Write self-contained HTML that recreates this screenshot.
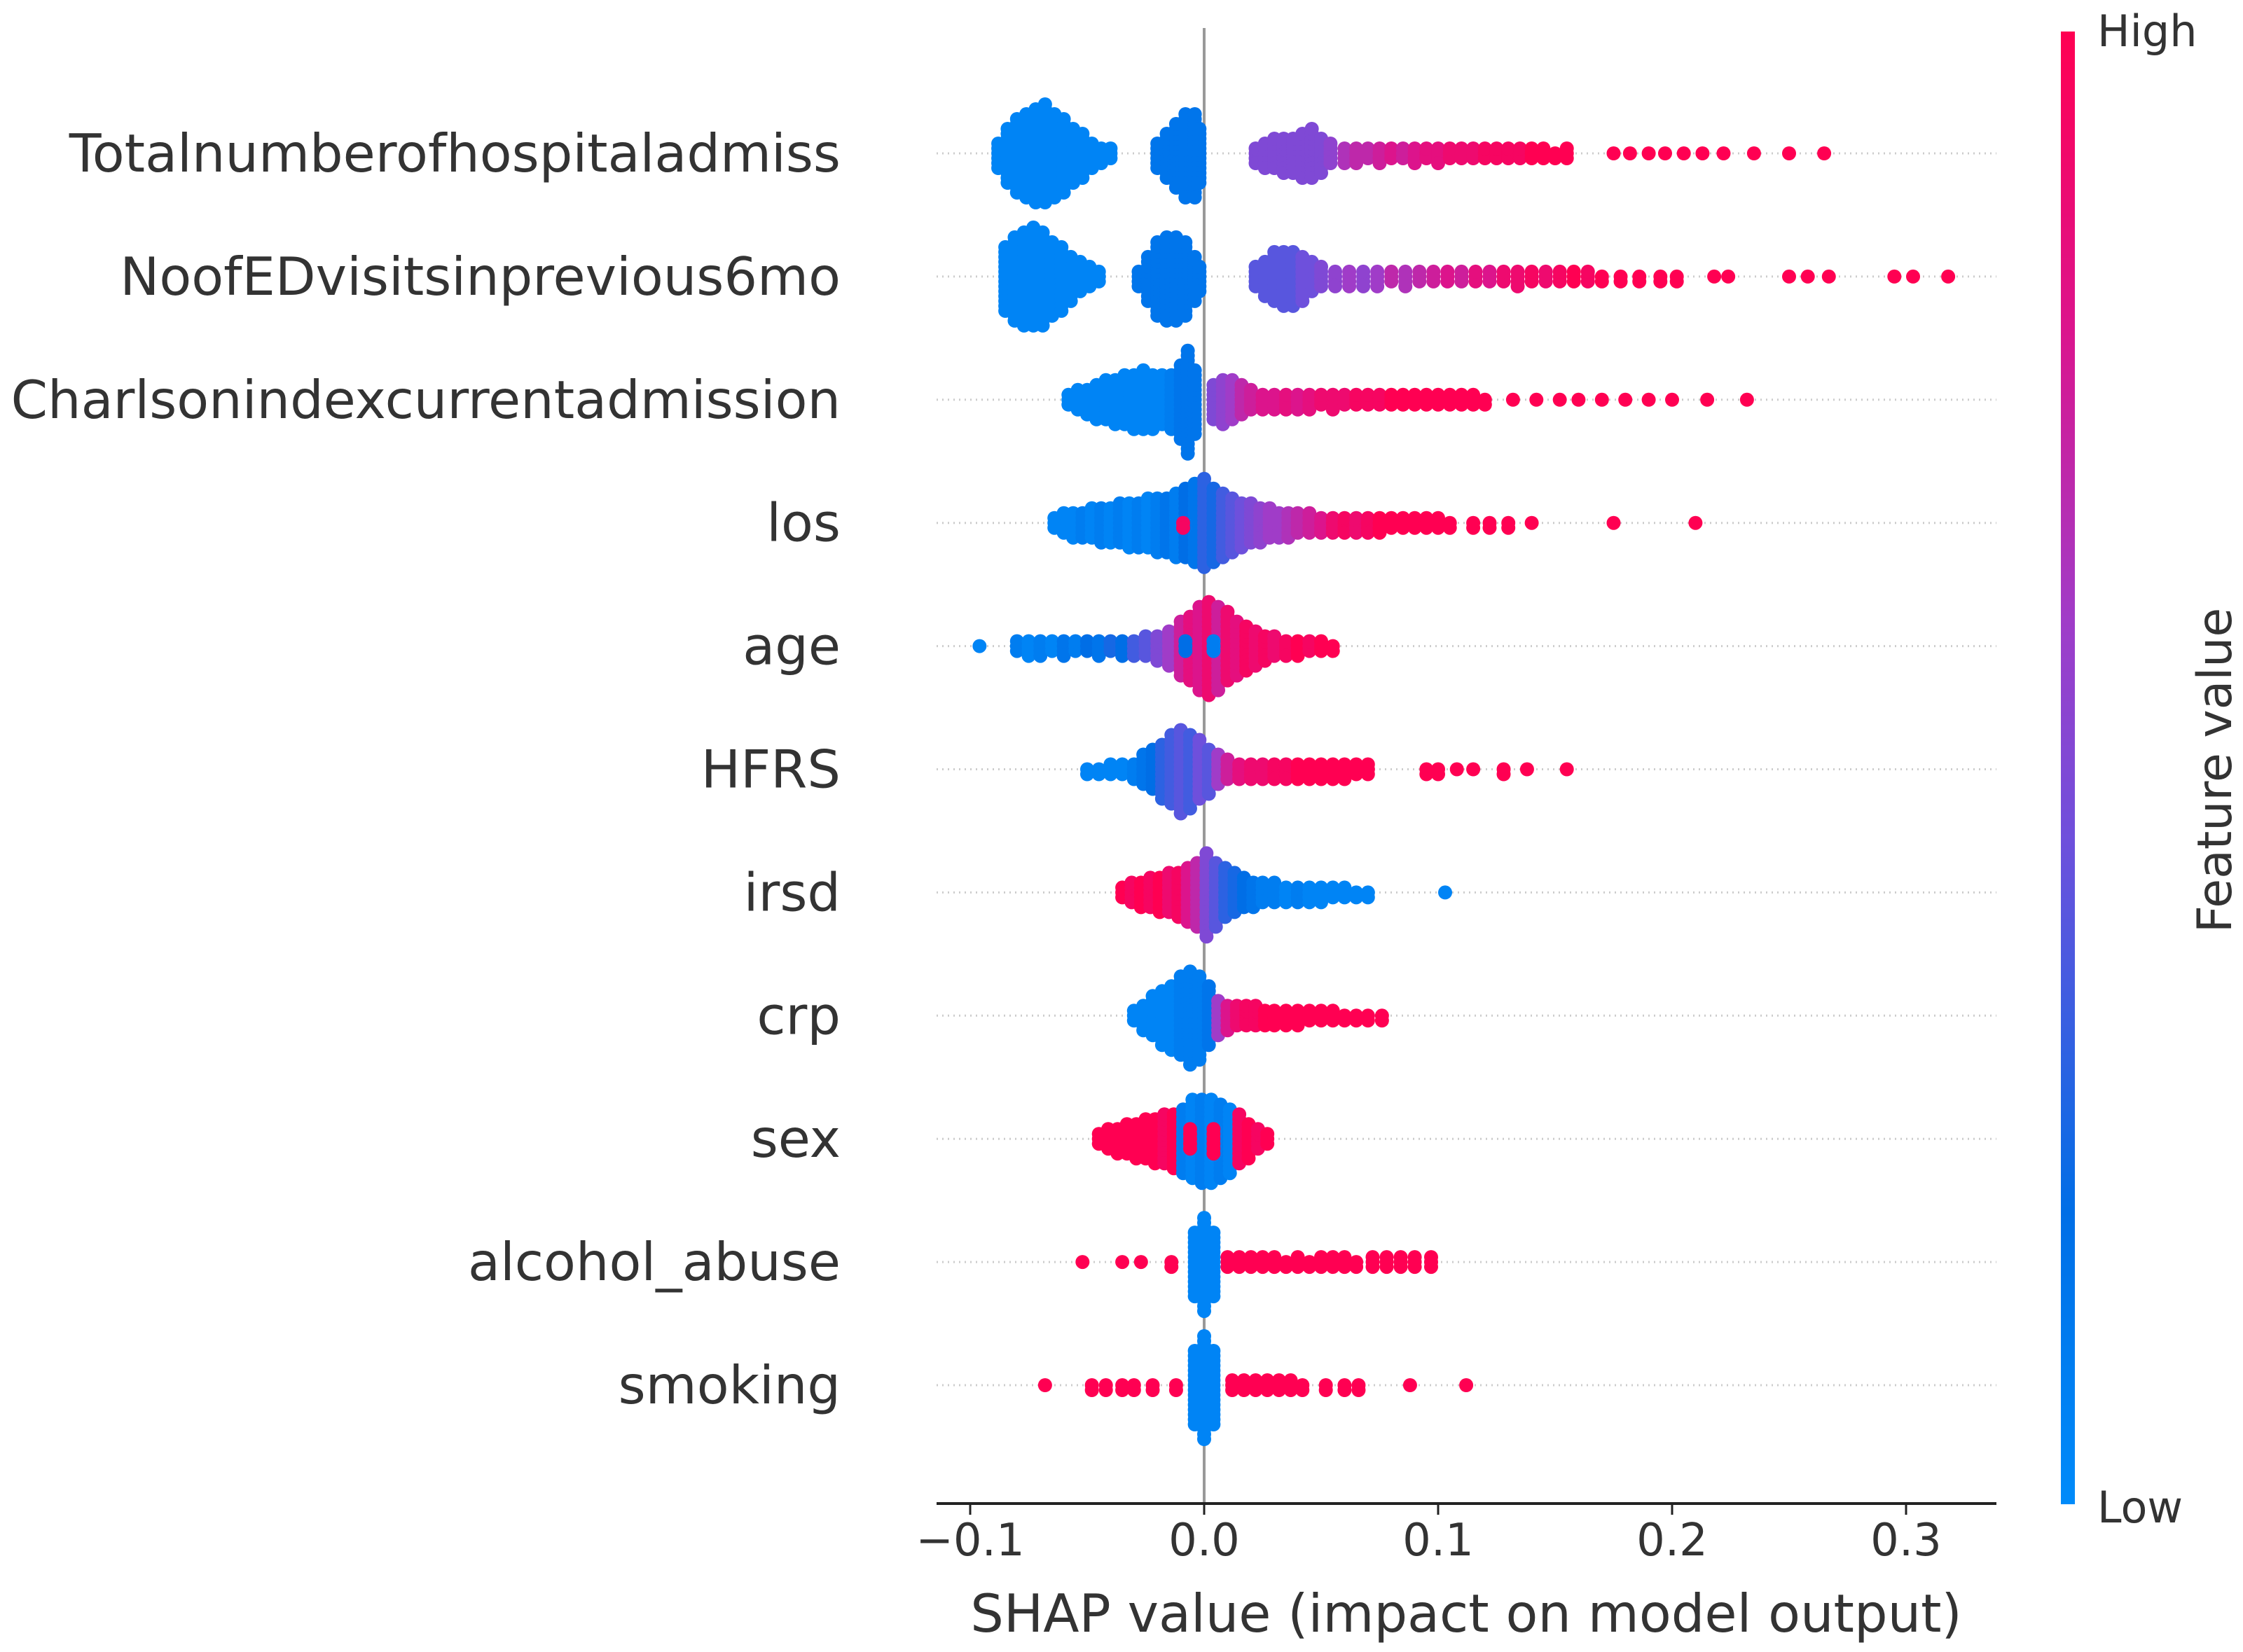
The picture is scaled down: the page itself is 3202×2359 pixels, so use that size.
<!DOCTYPE html>
<html><head><meta charset="utf-8"><style>
html,body{margin:0;padding:0;background:#fff;}
svg{display:block;font-family:"DejaVu Sans","Liberation Sans",sans-serif;}
</style></head><body>
<svg id="chart" width="3202" height="2359" viewBox="0 0 3202 2359" xmlns="http://www.w3.org/2000/svg">
<defs><linearGradient id="cbar" x1="0" y1="1" x2="0" y2="0">
<stop offset="0" stop-color="rgb(0,139,250)"/><stop offset="0.2" stop-color="rgb(0,110,230)"/><stop offset="0.45" stop-color="rgb(110,80,220)"/><stop offset="0.6" stop-color="rgb(160,60,200)"/><stop offset="0.8" stop-color="rgb(220,20,140)"/><stop offset="1" stop-color="rgb(255,0,82)"/></linearGradient></defs>
<g id="grid"></g><g id="dots"></g><g id="axes"></g>
<rect x="2942" y="45" width="20" height="2103" fill="url(#cbar)"/>
<text x="2994" y="66" font-size="62" fill="#333">High</text>
<text x="2994" y="2174" font-size="62" fill="#333">Low</text>
<text transform="translate(3185,1100) rotate(-90)" text-anchor="middle" font-size="68" fill="#333">Feature value</text>
<text x="2093" y="2330" text-anchor="middle" font-size="75" fill="#333">SHAP value (impact on model output)</text>
</svg>
<script>
const features = ["Totalnumberofhospitaladmiss","NoofEDvisitsinprevious6mo","Charlsonindexcurrentadmission","los","age","HFRS","irsd","crp","sex","alcohol_abuse","smoking"];
const xTicks = [-0.1,0.0,0.1,0.2,0.3];
const xTickLabels = ["\u22120.1","0.0","0.1","0.2","0.3"];
// bins: [shap value, feature value (0-1), count]
const r1 = [[-0.088,.05,6],[-0.084,.05,12],[-0.08,.05,16],[-0.076,.05,18],[-0.072,.05,20],[-0.068,.05,21],[-0.064,.05,18],[-0.06,.05,16],[-0.056,.05,12],[-0.052,.05,10],[-0.048,.05,6],[-0.044,.05,4],[-0.04,.05,3],[-0.02,.15,6],[-0.016,.15,10],[-0.012,.15,14],[-0.008,.15,18],[-0.004,.15,18],[-0.002,.15,12],[0.022,.5,4],[0.026,.5,6],[0.03,.5,7],[0.034,.5,8],[0.038,.5,8],[0.042,.5,10],[0.046,.5,11],[0.05,.5,8],[0.054,.55,5],[0.06,.65,4],[0.065,.7,4],[0.07,.7,3],[0.075,.75,4],[0.08,.8,3],[0.085,.75,3],[0.09,.8,4],[0.095,.85,3],[0.1,.85,4],[0.105,.9,3],[0.11,.9,3],[0.115,.9,3],[0.12,.95,3],[0.125,.95,3],[0.13,.95,3],[0.135,.95,3],[0.14,1,3],[0.145,1,3],[0.15,1,2],[0.155,1,3],[0.175,1,1],[0.182,1,1],[0.19,1,1],[0.197,1,1],[0.205,1,1],[0.213,1,1],[0.222,1,1],[0.235,1,1],[0.25,1,1],[0.265,1,1]];
const r2 = [[-0.085,.05,14],[-0.081,.05,18],[-0.077,.05,20],[-0.073,.05,21],[-0.069,.05,20],[-0.065,.05,16],[-0.061,.05,14],[-0.057,.05,10],[-0.053,.05,7],[-0.049,.05,5],[-0.045,.05,3],[-0.028,.15,4],[-0.024,.15,10],[-0.02,.15,16],[-0.016,.15,18],[-0.012,.15,18],[-0.008,.15,16],[-0.004,.15,10],[-0.002,.15,6],[0.022,.4,5],[0.026,.4,8],[0.03,.4,11],[0.034,.4,12],[0.038,.4,12],[0.042,.45,10],[0.046,.45,7],[0.05,.5,5],[0.056,.55,4],[0.062,.6,4],[0.068,.55,4],[0.074,.6,4],[0.08,.7,3],[0.086,.65,4],[0.092,.7,3],[0.098,.75,3],[0.104,.8,3],[0.11,.75,3],[0.116,.85,3],[0.122,.8,3],[0.128,.9,3],[0.134,.9,4],[0.14,.95,3],[0.146,.9,3],[0.152,.95,3],[0.158,1,3],[0.164,.95,3],[0.17,1,2],[0.178,1,2],[0.186,1,2],[0.195,1,2],[0.202,1,2],[0.218,1,1],[0.224,1,1],[0.25,1,1],[0.258,1,1],[0.267,1,1],[0.295,1,1],[0.303,1,1],[0.318,1,1]];
const r3 = [[-0.058,.05,3],[-0.054,.05,5],[-0.05,.05,6],[-0.046,.05,8],[-0.042,.05,9],[-0.038,.05,10],[-0.034,.05,11],[-0.03,.05,12],[-0.026,.05,13],[-0.022,.05,12],[-0.018,.05,11],[-0.014,.1,12],[-0.01,.15,16],[-0.007,.15,22],[-0.004,.15,14],[0.004,.5,8],[0.008,.55,10],[0.012,.6,9],[0.016,.7,7],[0.02,.75,5],[0.025,.8,4],[0.03,.8,4],[0.035,.85,4],[0.04,.8,4],[0.045,.85,4],[0.05,.9,3],[0.055,.9,4],[0.06,.9,3],[0.065,.95,3],[0.07,.95,3],[0.075,.95,3],[0.08,1,3],[0.085,1,3],[0.09,1,3],[0.095,1,3],[0.1,1,3],[0.105,1,3],[0.11,1,3],[0.115,1,3],[0.12,1,2],[0.132,1,1],[0.142,1,1],[0.152,1,1],[0.16,1,1],[0.17,1,1],[0.18,1,1],[0.19,1,1],[0.2,1,1],[0.215,1,1],[0.232,1,1]];
const r4 = [[-0.064,.05,3],[-0.06,.05,5],[-0.056,.05,6],[-0.052,.1,6],[-0.048,.05,7],[-0.044,.1,8],[-0.04,.05,8],[-0.036,.1,9],[-0.032,.05,10],[-0.028,.1,10],[-0.024,.05,11],[-0.02,.1,12],[-0.016,.15,12],[-0.012,.1,14],[-0.008,.2,15],[-0.004,.15,17],[0,.3,19],[0.004,.25,16],[0.008,.35,14],[-0.009,.95,2],[0.012,.4,12],[0.016,.45,10],[0.02,.5,9],[0.024,.55,8],[0.028,.6,7],[0.032,.6,6],[0.036,.65,6],[0.04,.7,5],[0.045,.75,5],[0.05,.8,4],[0.055,.9,4],[0.06,.95,4],[0.065,.9,4],[0.07,.95,4],[0.075,1,4],[0.08,1,3],[0.085,1,3],[0.09,1,3],[0.095,1,3],[0.1,1,3],[0.105,1,2],[0.115,1,2],[0.122,1,2],[0.13,1,2],[0.14,1,1],[0.175,1,1],[0.21,1,1]];
const r5 = [[-0.096,.05,1],[-0.08,.1,3],[-0.075,.05,4],[-0.07,.1,4],[-0.065,.05,3],[-0.06,.15,4],[-0.055,.1,3],[-0.05,.2,3],[-0.045,.15,4],[-0.04,.25,3],[-0.035,.2,4],[-0.03,.35,4],[-0.025,.4,5],[-0.02,.5,6],[-0.015,.6,8],[-0.01,.75,12],[-0.006,.85,14],[-0.002,.8,18],[0.002,.9,20],[0.006,.75,18],[0.01,.9,15],[0.014,.85,12],[0.018,.95,10],[0.022,.9,8],[0.026,.95,6],[0.03,.9,5],[0.035,.95,4],[0.04,1,4],[0.045,.95,3],[0.05,1,3],[0.055,1,2],[0.004,.1,3],[-0.008,.2,3]];
const r6 = [[-0.05,.05,2],[-0.045,.05,2],[-0.04,.05,3],[-0.035,.05,3],[-0.03,.1,4],[-0.026,.15,7],[-0.022,.2,9],[-0.018,.3,12],[-0.014,.35,15],[-0.01,.4,18],[-0.006,.35,16],[-0.002,.45,13],[0.002,.4,10],[0.006,.6,7],[0.01,.75,5],[0.015,.85,4],[0.02,.9,4],[0.025,.9,4],[0.03,.95,4],[0.035,.95,4],[0.04,1,4],[0.045,1,4],[0.05,1,4],[0.055,1,4],[0.06,1,4],[0.065,1,3],[0.07,1,3],[0.095,1,2],[0.1,1,2],[0.108,1,1],[0.115,1,1],[0.128,1,2],[0.138,1,1],[0.155,1,1]];
const r7 = [[-0.035,1,3],[-0.031,.95,5],[-0.027,1,6],[-0.023,.95,7],[-0.019,1,8],[-0.015,.9,9],[-0.011,.95,10],[-0.007,.8,12],[-0.003,.7,14],[0.001,.5,18],[0.005,.4,14],[0.009,.3,11],[0.013,.25,9],[0.017,.2,7],[0.021,.15,6],[0.025,.1,5],[0.03,.1,5],[0.035,.05,4],[0.04,.1,4],[0.045,.05,4],[0.05,.05,4],[0.055,.05,3],[0.06,.05,3],[0.065,.05,2],[0.07,.05,2],[0.103,.05,1]];
const r8 = [[-0.03,.05,3],[-0.026,.05,6],[-0.022,.05,9],[-0.018,.05,12],[-0.014,.05,14],[-0.01,.1,17],[-0.006,.1,20],[-0.002,.1,18],[0.002,.15,13],[0.006,.6,8],[0.01,.8,6],[0.014,.9,5],[0.018,.95,5],[0.022,.95,5],[0.026,1,4],[0.03,1,4],[0.035,1,4],[0.04,1,4],[0.045,1,3],[0.05,1,3],[0.055,1,3],[0.06,1,2],[0.065,1,2],[0.07,1,2],[0.076,1,2]];
const r9 = [[-0.045,1,3],[-0.041,1,5],[-0.037,1,6],[-0.033,1,7],[-0.029,1,8],[-0.025,1,9],[-0.021,1,10],[-0.017,.95,11],[-0.013,1,12],[-0.009,.1,14],[-0.005,.05,17],[-0.001,.1,18],[0.003,.05,18],[0.007,.1,16],[0.011,.05,14],[0.004,1,6],[-0.006,1,5],[0.015,.95,11],[0.019,1,8],[0.023,.95,5],[0.027,1,3]];
const r10 = [[-0.052,1,1],[-0.035,1,1],[-0.027,1,1],[-0.014,1,2],[-0.004,.05,14],[0,.05,20],[0.004,.05,14],[0.01,1,3],[0.015,1,3],[0.02,1,3],[0.025,1,3],[0.03,1,3],[0.035,1,2],[0.04,1,3],[0.045,1,2],[0.05,1,3],[0.055,1,3],[0.06,1,3],[0.065,1,2],[0.072,1,3],[0.078,1,3],[0.084,1,3],[0.09,1,3],[0.097,1,3]];
const r11 = [[-0.068,1,1],[-0.048,1,2],[-0.042,1,2],[-0.035,1,2],[-0.03,1,2],[-0.022,1,2],[-0.012,1,2],[-0.004,.05,16],[0,.05,22],[0.004,.05,16],[0.012,1,3],[0.017,1,3],[0.022,1,3],[0.027,1,3],[0.032,1,3],[0.037,1,3],[0.042,1,2],[0.052,1,2],[0.06,1,2],[0.066,1,2],[0.088,1,1],[0.112,1,1]];
const rows = [r1,r2,r3,r4,r5,r6,r7,r8,r9,r10,r11];

const NS="http://www.w3.org/2000/svg";
const X0=1719, XU=3340, ROW0=219, ROWH=175.9, AXY=2147, XL=1337, XR=2850;
function sx(v){return X0+v*XU;}
function sy(i){return ROW0+i*ROWH;}
const stops=[[0,[0,139,250]],[0.2,[0,110,230]],[0.45,[110,80,220]],[0.6,[160,60,200]],[0.8,[220,20,140]],[1,[255,0,82]]];
function cmap(t){for(let k=1;k<stops.length;k++){if(t<=stops[k][0]){const a=stops[k-1],b=stops[k];const f=(t-a[0])/(b[0]-a[0]);const c=a[1].map((v,j)=>Math.round(v+(b[1][j]-v)*f));return "rgb("+c.join(",")+")";}}return "rgb(255,0,82)";}
function mk(tag,attrs,parent){const e=document.createElementNS(NS,tag);for(const k in attrs)e.setAttribute(k,attrs[k]);parent.appendChild(e);return e;}
const grid=document.getElementById('grid'),dots=document.getElementById('dots'),axes=document.getElementById('axes');
features.forEach((f,i)=>{
  const gl=mk('line',{x1:XL,x2:XR,y1:sy(i),y2:sy(i),stroke:'#ccc','stroke-width':3,'stroke-dasharray':'2 6'},grid);
  
  
  const t=mk('text',{x:1200,y:sy(i)+26,'text-anchor':'end','font-size':75,fill:'#333'},axes);
  t.textContent=f;
  
  
});
const zl=mk('line',{x1:X0,x2:X0,y1:40,y2:AXY,stroke:'#999','stroke-width':4},grid);


rows.forEach((bins,i)=>{
  bins.forEach(b=>{
    const [v,fv,n]=b;
    for(let k=0;k<n;k++){
      const off=(k===0)?0:(k%2?1:-1)*Math.ceil(k/2)*7;
      const c=mk('circle',{cx:sx(v),cy:sy(i)+off,r:10,fill:cmap(fv)},dots);
      
      
    }
  });
});
const ax=mk('line',{x1:XL,x2:XR,y1:AXY,y2:AXY,stroke:'#222','stroke-width':4},axes);


xTicks.forEach((v,i)=>{
  const tk=mk('line',{x1:sx(v),x2:sx(v),y1:AXY,y2:AXY+16,stroke:'#222','stroke-width':3},axes);
  
  
  const tl=mk('text',{x:sx(v),y:AXY+74,'text-anchor':'middle','font-size':64,fill:'#333'},axes);
  tl.textContent=xTickLabels[i];
  
  
});
</script>
</body></html>
